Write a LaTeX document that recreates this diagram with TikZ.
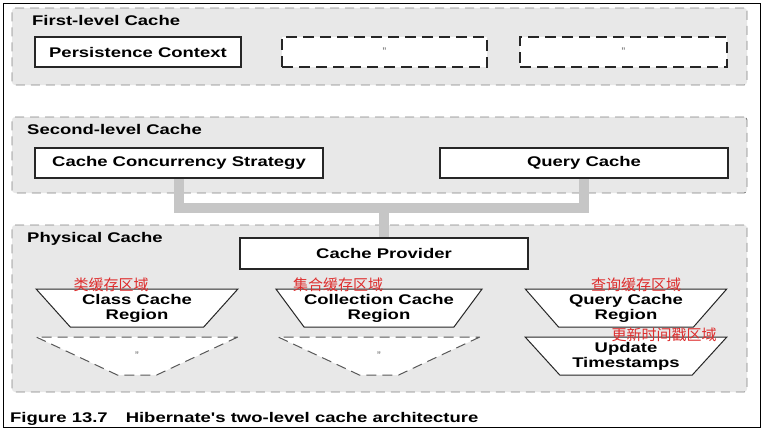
\documentclass[tikz,border=0pt]{standalone}
\usepackage{fontspec}
\setmainfont{Liberation Sans}
\newfontfamily\widefont{Liberation Sans}[FakeStretch=1.32]
\newfontfamily\cjk{Noto Sans CJK SC}
\usetikzlibrary{positioning,shapes.geometric,backgrounds}
\definecolor{PanelGray}{RGB}{232,232,232}
\definecolor{BusGray}{RGB}{198,198,198}
\definecolor{NoteRed}{RGB}{222,45,45}
\tikzset{panel/.style={draw=gray,fill=PanelGray,dash pattern=on 9pt off 6pt,rounded corners=3pt,line width=.9pt}}
\tikzset{paneltitle/.style={anchor=west,inner sep=0pt,font=\widefont\fontsize{14}{15}\bfseries\selectfont}}
\tikzset{cachebox/.style={draw=black!85,fill=white,line width=1.2pt,inner sep=0pt,minimum height=30pt,font=\widefont\fontsize{14}{15}\bfseries\selectfont}}
\tikzset{dittobox/.style={cachebox,dash pattern=on 11pt off 6pt,font=\fontsize{11}{12}\selectfont,text=black!60}}
\tikzset{region/.style={trapezium,trapezium stretches=true,shape border rotate=180,trapezium angle=45,draw=black!85,fill=white,line width=1pt,minimum width=202pt,minimum height=38pt,inner sep=0pt,align=center,font=\widefont\fontsize{14}{15}\bfseries\selectfont}}
\tikzset{dittoregion/.style={region,draw=gray!70!black,dash pattern=on 10pt off 6pt,font=\fontsize{11}{12}\selectfont,text=black!60}}
\tikzset{note/.style={text=NoteRed,inner sep=0pt,font=\cjk\fontsize{15}{16}\selectfont}}
\tikzset{bus/.style={draw=BusGray,line width=10pt}}

\begin{document}
\begin{tikzpicture}[x=1pt,y=-1pt]
  \useasboundingbox (0,0) rectangle (771,431);
  \draw[line width=1pt] (3,3) rectangle (760,427);
  \node[paneltitle] (firstT) at (32,20) {First-level Cache};
  \node[paneltitle] (secondT) at (27,129) {Second-level Cache};
  \node[paneltitle] (physicalT) at (27,239) {Physical Cache};
  % first level
  \node[cachebox,minimum width=206pt] (pc) at (138,52) {Persistence Context};
  \node[dittobox,minimum width=205pt] (pc2) at (384.5,52) {"};
  \node[dittobox,minimum width=207pt] (pc3) at (623.5,52) {"};
  % second level and provider
  \node[cachebox,minimum width=288pt] (ccs) at (179,163) {Cache Concurrency Strategy};
  \node[cachebox,minimum width=288pt] (qc) at (584,163) {Query Cache};
  \node[cachebox,minimum width=288pt,minimum height=31pt] (cp) at (384,253.5) {Cache Provider};
  \coordinate (busmid) at (384,208);
  % regions
  \node[region] (classR) at (137,308) {Class Cache\\Region};
  \node[region] (collR) at (379,308) {Collection Cache\\Region};
  \node[region] (queryR) at (626,308) {Query Cache\\Region};
  \node[dittoregion] (classR2) at (137,356) {"};
  \node[dittoregion] (collR2) at (379,356) {"};
  \node[region] (stampR) at (626,356) {Update\\Timestamps};
  \node[note] (classN) at (111,285) {类缓存区域};
  \node[note] (collN) at (338,285) {集合缓存区域};
  \node[note] (queryN) at (636,285) {查询缓存区域};
  \node[note] (stampN) at (664,335) {更新时间戳区域};
  \node[anchor=west,inner sep=0pt,font=\widefont\fontsize{14}{15}\bfseries\selectfont] (caption) at (10,419) {Figure 13.7\hspace{18pt}Hibernate's two-level cache architecture};
  \begin{scope}[on background layer]
    \node[panel,minimum width=735pt,minimum height=77pt] (first) at (379.5,46.5) {};
    \node[panel,minimum width=735pt,minimum height=76pt] (second) at (379.5,155) {};
    \node[panel,minimum width=735pt,minimum height=167pt] (physical) at (379.5,308.5) {};
    \draw[bus] (ccs.south) |- (busmid) -| (qc.south);
    \draw[bus] (busmid) -- (cp.north);
  \end{scope}
\end{tikzpicture}
\end{document}
